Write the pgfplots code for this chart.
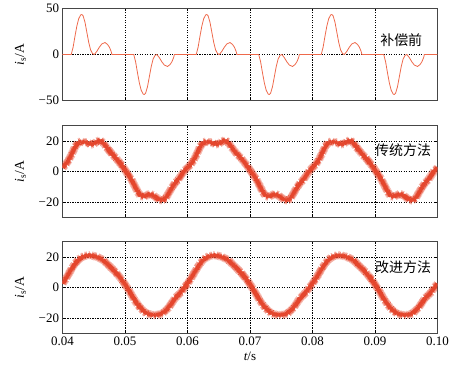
\documentclass[border=0pt]{standalone}
\usepackage{fontspec}
\setmainfont{Liberation Serif}
\newfontfamily\cjk{Noto Sans CJK SC}
\usepackage{pgfplots}
\pgfplotsset{compat=1.18}
\usetikzlibrary{decorations.pathmorphing}
\definecolor{cA}{RGB}{238,105,75}
\definecolor{cB}{RGB}{228,70,45}
\definecolor{frameC}{RGB}{70,70,70}
\pgfplotsset{
  common/.style={
    scale only axis, width=375bp, height=92bp,
    xmin=0.04, xmax=0.10,
    xtick={0.04,0.05,0.06,0.07,0.08,0.09,0.10},
    grid=major,
    major grid style={black, line width=0.5pt, dash pattern=on 1.2pt off 1.3pt},
    axis line style={frameC, line width=1pt},
    tick style={black, line width=0.4pt},
    major tick length=3bp,
    tick align=inside,
    /pgf/number format/assume math mode=true,
    tick label style={font=\fontsize{13}{15}\selectfont},
    ylabel={{\itshape i}\textsubscript{s}/A},
    ylabel style={font=\fontsize{13.5}{15}\selectfont, at={(axis description cs:-0.112,0.5)}, anchor=center},
    clip=true,
  },
  ripple/.style={cB, line width=0.45pt, decorate, decoration={zigzag, segment length=0.9pt, amplitude=2.1pt}},
  base/.style={cB!80, line width=2.6pt, line join=round},
}
\begin{document}
\begin{tikzpicture}
\useasboundingbox (0,0) rectangle (474bp,366bp);
% ---------- Panel 1 ----------
\begin{axis}[common, at={(62.5bp,357.5bp)}, anchor=north west,
  ymin=-50, ymax=50, ytick={-50,0,50}, yticklabels={−50,0,50}, xticklabels={}]
\addplot[cA, line width=0.8pt] coordinates {
(0.0400,0)
(0.0414,0)(0.0417,8)(0.0420,20)(0.0423,31)(0.0426,39)(0.0429,43)(0.0431,43.5)(0.0433,42)(0.0436,35)(0.0439,24)(0.0442,13)
(0.0445,5)(0.0448,1)(0.0451,0)(0.0455,3.5)(0.0459,8)(0.0463,11.5)(0.0468,13)(0.0472,11)(0.0475,8)(0.0478,3)(0.0479,0)
(0.0514,0)(0.0517,-8)(0.0520,-20)(0.0523,-31)(0.0526,-39)(0.0529,-43)(0.0531,-43.5)(0.0533,-42)(0.0536,-35)(0.0539,-24)(0.0542,-13)
(0.0545,-5)(0.0548,-1)(0.0551,0)(0.0555,-3.5)(0.0559,-8)(0.0563,-11.5)(0.0568,-13)(0.0572,-11)(0.0575,-8)(0.0578,-3)(0.0579,0)
(0.0614,0)(0.0617,8)(0.0620,20)(0.0623,31)(0.0626,39)(0.0629,43)(0.0631,43.5)(0.0633,42)(0.0636,35)(0.0639,24)(0.0642,13)
(0.0645,5)(0.0648,1)(0.0651,0)(0.0655,3.5)(0.0659,8)(0.0663,11.5)(0.0668,13)(0.0672,11)(0.0675,8)(0.0678,3)(0.0679,0)
(0.0714,0)(0.0717,-8)(0.0720,-20)(0.0723,-31)(0.0726,-39)(0.0729,-43)(0.0731,-43.5)(0.0733,-42)(0.0736,-35)(0.0739,-24)(0.0742,-13)
(0.0745,-5)(0.0748,-1)(0.0751,0)(0.0755,-3.5)(0.0759,-8)(0.0763,-11.5)(0.0768,-13)(0.0772,-11)(0.0775,-8)(0.0778,-3)(0.0779,0)
(0.0814,0)(0.0817,8)(0.0820,20)(0.0823,31)(0.0826,39)(0.0829,43)(0.0831,43.5)(0.0833,42)(0.0836,35)(0.0839,24)(0.0842,13)
(0.0845,5)(0.0848,1)(0.0851,0)(0.0855,3.5)(0.0859,8)(0.0863,11.5)(0.0868,13)(0.0872,11)(0.0875,8)(0.0878,3)(0.0879,0)
(0.0914,0)(0.0917,-8)(0.0920,-20)(0.0923,-31)(0.0926,-39)(0.0929,-43)(0.0931,-43.5)(0.0933,-42)(0.0936,-35)(0.0939,-24)(0.0942,-13)
(0.0945,-5)(0.0948,-1)(0.0951,0)(0.0955,-3.5)(0.0959,-8)(0.0963,-11.5)(0.0968,-13)(0.0972,-11)(0.0975,-8)(0.0978,-3)(0.0979,0)
(0.1000,0)
};
\node[font=\cjk\fontsize{14}{16}\selectfont] at (axis cs:0.0942,16) {补偿前};
\end{axis}
% ---------- Panel 2 ----------
\begin{axis}[common, at={(62.5bp,240.5bp)}, anchor=north west,
  ymin=-30, ymax=30, ytick={-20,0,20}, yticklabels={−20,0,20}, xticklabels={}]
\addplot[base] coordinates {
(0.0400,2.5)(0.0405,4.5)(0.0410,7.5)(0.0415,11.5)(0.0420,16)(0.0425,19)(0.0430,19.5)(0.0435,19)(0.0440,19)(0.0445,17.5)
(0.0450,18)(0.0455,19.5)(0.0460,20.5)(0.0465,19)(0.0470,16)(0.0475,13.5)(0.0480,11)(0.0485,9)(0.0490,6.5)(0.0495,4)
(0.0500,1)(0.0505,-2)(0.0510,-5)(0.0515,-9)(0.0520,-13)(0.0525,-16)(0.0530,-16.5)(0.0535,-15.5)(0.0540,-14.5)(0.0545,-15.5)
(0.0550,-17)(0.0555,-18.5)(0.0560,-19)(0.0565,-17.5)(0.0570,-14)(0.0575,-10.5)(0.0580,-7.5)(0.0585,-5.5)(0.0590,-2.5)(0.0595,0.5)
(0.0600,2.5)(0.0605,4.5)(0.0610,7.5)(0.0615,11.5)(0.0620,16)(0.0625,19)(0.0630,19.5)(0.0635,19)(0.0640,19)(0.0645,17.5)
(0.0650,18)(0.0655,19.5)(0.0660,20.5)(0.0665,19)(0.0670,16)(0.0675,13.5)(0.0680,11)(0.0685,9)(0.0690,6.5)(0.0695,4)
(0.0700,1)(0.0705,-2)(0.0710,-5)(0.0715,-9)(0.0720,-13)(0.0725,-16)(0.0730,-16.5)(0.0735,-15.5)(0.0740,-14.5)(0.0745,-15.5)
(0.0750,-17)(0.0755,-18.5)(0.0760,-19)(0.0765,-17.5)(0.0770,-14)(0.0775,-10.5)(0.0780,-7.5)(0.0785,-5.5)(0.0790,-2.5)(0.0795,0.5)
(0.0800,2.5)(0.0805,4.5)(0.0810,7.5)(0.0815,11.5)(0.0820,16)(0.0825,19)(0.0830,19.5)(0.0835,19)(0.0840,19)(0.0845,17.5)
(0.0850,18)(0.0855,19.5)(0.0860,20.5)(0.0865,19)(0.0870,16)(0.0875,13.5)(0.0880,11)(0.0885,9)(0.0890,6.5)(0.0895,4)
(0.0900,1)(0.0905,-2)(0.0910,-5)(0.0915,-9)(0.0920,-13)(0.0925,-16)(0.0930,-16.5)(0.0935,-15.5)(0.0940,-14.5)(0.0945,-15.5)
(0.0950,-17)(0.0955,-18.5)(0.0960,-19)(0.0965,-17.5)(0.0970,-14)(0.0975,-10.5)(0.0980,-7.5)(0.0985,-5.5)(0.0990,-2.5)(0.0995,0.5)
(0.1000,2.5)
};
\addplot[ripple] coordinates {
(0.0400,2.5)(0.0405,4.5)(0.0410,7.5)(0.0415,11.5)(0.0420,16)(0.0425,19)(0.0430,19.5)(0.0435,19)(0.0440,19)(0.0445,17.5)
(0.0450,18)(0.0455,19.5)(0.0460,20.5)(0.0465,19)(0.0470,16)(0.0475,13.5)(0.0480,11)(0.0485,9)(0.0490,6.5)(0.0495,4)
(0.0500,1)(0.0505,-2)(0.0510,-5)(0.0515,-9)(0.0520,-13)(0.0525,-16)(0.0530,-16.5)(0.0535,-15.5)(0.0540,-14.5)(0.0545,-15.5)
(0.0550,-17)(0.0555,-18.5)(0.0560,-19)(0.0565,-17.5)(0.0570,-14)(0.0575,-10.5)(0.0580,-7.5)(0.0585,-5.5)(0.0590,-2.5)(0.0595,0.5)
(0.0600,2.5)(0.0605,4.5)(0.0610,7.5)(0.0615,11.5)(0.0620,16)(0.0625,19)(0.0630,19.5)(0.0635,19)(0.0640,19)(0.0645,17.5)
(0.0650,18)(0.0655,19.5)(0.0660,20.5)(0.0665,19)(0.0670,16)(0.0675,13.5)(0.0680,11)(0.0685,9)(0.0690,6.5)(0.0695,4)
(0.0700,1)(0.0705,-2)(0.0710,-5)(0.0715,-9)(0.0720,-13)(0.0725,-16)(0.0730,-16.5)(0.0735,-15.5)(0.0740,-14.5)(0.0745,-15.5)
(0.0750,-17)(0.0755,-18.5)(0.0760,-19)(0.0765,-17.5)(0.0770,-14)(0.0775,-10.5)(0.0780,-7.5)(0.0785,-5.5)(0.0790,-2.5)(0.0795,0.5)
(0.0800,2.5)(0.0805,4.5)(0.0810,7.5)(0.0815,11.5)(0.0820,16)(0.0825,19)(0.0830,19.5)(0.0835,19)(0.0840,19)(0.0845,17.5)
(0.0850,18)(0.0855,19.5)(0.0860,20.5)(0.0865,19)(0.0870,16)(0.0875,13.5)(0.0880,11)(0.0885,9)(0.0890,6.5)(0.0895,4)
(0.0900,1)(0.0905,-2)(0.0910,-5)(0.0915,-9)(0.0920,-13)(0.0925,-16)(0.0930,-16.5)(0.0935,-15.5)(0.0940,-14.5)(0.0945,-15.5)
(0.0950,-17)(0.0955,-18.5)(0.0960,-19)(0.0965,-17.5)(0.0970,-14)(0.0975,-10.5)(0.0980,-7.5)(0.0985,-5.5)(0.0990,-2.5)(0.0995,0.5)
(0.1000,2.5)
};
\node[font=\cjk\fontsize{14}{16}\selectfont] at (axis cs:0.0945,13.7) {传统方法};
\end{axis}
% ---------- Panel 3 ----------
\begin{axis}[common, at={(62.5bp,124.5bp)}, anchor=north west,
  ymin=-30, ymax=30, ytick={-20,0,20}, yticklabels={−20,0,20},
  xticklabels={0.04,0.05,0.06,0.07,0.08,0.09,0.10},
  xlabel={{\itshape t}/s},
  xlabel style={font=\fontsize{13}{15}\selectfont, at={(axis description cs:0.5,0)}, anchor=north, yshift=-15bp}]
\addplot[base] coordinates {
(0.0400,2.5)(0.0405,5.5)(0.0410,9)(0.0415,12.5)(0.0420,15.5)(0.0425,18)(0.0430,19.5)(0.0435,20.5)(0.0440,21)(0.0445,21)
(0.0450,20.5)(0.0455,20)(0.0460,19)(0.0465,18)(0.0470,16)(0.0475,14)(0.0480,12)(0.0485,10)(0.0490,7.5)(0.0495,5)
(0.0500,2)(0.0505,-1)(0.0510,-4.5)(0.0515,-8)(0.0520,-11)(0.0525,-13.5)(0.0530,-15.5)(0.0535,-17)(0.0540,-17.5)(0.0545,-18)
(0.0550,-18)(0.0555,-17.5)(0.0560,-17)(0.0565,-15)(0.0570,-13)(0.0575,-10)(0.0580,-7)(0.0585,-5)(0.0590,-3)(0.0595,0)
(0.0600,2.5)(0.0605,5.5)(0.0610,9)(0.0615,12.5)(0.0620,15.5)(0.0625,18)(0.0630,19.5)(0.0635,20.5)(0.0640,21)(0.0645,21)
(0.0650,20.5)(0.0655,20)(0.0660,19)(0.0665,18)(0.0670,16)(0.0675,14)(0.0680,12)(0.0685,10)(0.0690,7.5)(0.0695,5)
(0.0700,2)(0.0705,-1)(0.0710,-4.5)(0.0715,-8)(0.0720,-11)(0.0725,-13.5)(0.0730,-15.5)(0.0735,-17)(0.0740,-17.5)(0.0745,-18)
(0.0750,-18)(0.0755,-17.5)(0.0760,-17)(0.0765,-15)(0.0770,-13)(0.0775,-10)(0.0780,-7)(0.0785,-5)(0.0790,-3)(0.0795,0)
(0.0800,2.5)(0.0805,5.5)(0.0810,9)(0.0815,12.5)(0.0820,15.5)(0.0825,18)(0.0830,19.5)(0.0835,20.5)(0.0840,21)(0.0845,21)
(0.0850,20.5)(0.0855,20)(0.0860,19)(0.0865,18)(0.0870,16)(0.0875,14)(0.0880,12)(0.0885,10)(0.0890,7.5)(0.0895,5)
(0.0900,2)(0.0905,-1)(0.0910,-4.5)(0.0915,-8)(0.0920,-11)(0.0925,-13.5)(0.0930,-15.5)(0.0935,-17)(0.0940,-17.5)(0.0945,-18)
(0.0950,-18)(0.0955,-17.5)(0.0960,-17)(0.0965,-15)(0.0970,-13)(0.0975,-10)(0.0980,-7)(0.0985,-5)(0.0990,-3)(0.0995,0)
(0.1000,2.5)
};
\addplot[ripple] coordinates {
(0.0400,2.5)(0.0405,5.5)(0.0410,9)(0.0415,12.5)(0.0420,15.5)(0.0425,18)(0.0430,19.5)(0.0435,20.5)(0.0440,21)(0.0445,21)
(0.0450,20.5)(0.0455,20)(0.0460,19)(0.0465,18)(0.0470,16)(0.0475,14)(0.0480,12)(0.0485,10)(0.0490,7.5)(0.0495,5)
(0.0500,2)(0.0505,-1)(0.0510,-4.5)(0.0515,-8)(0.0520,-11)(0.0525,-13.5)(0.0530,-15.5)(0.0535,-17)(0.0540,-17.5)(0.0545,-18)
(0.0550,-18)(0.0555,-17.5)(0.0560,-17)(0.0565,-15)(0.0570,-13)(0.0575,-10)(0.0580,-7)(0.0585,-5)(0.0590,-3)(0.0595,0)
(0.0600,2.5)(0.0605,5.5)(0.0610,9)(0.0615,12.5)(0.0620,15.5)(0.0625,18)(0.0630,19.5)(0.0635,20.5)(0.0640,21)(0.0645,21)
(0.0650,20.5)(0.0655,20)(0.0660,19)(0.0665,18)(0.0670,16)(0.0675,14)(0.0680,12)(0.0685,10)(0.0690,7.5)(0.0695,5)
(0.0700,2)(0.0705,-1)(0.0710,-4.5)(0.0715,-8)(0.0720,-11)(0.0725,-13.5)(0.0730,-15.5)(0.0735,-17)(0.0740,-17.5)(0.0745,-18)
(0.0750,-18)(0.0755,-17.5)(0.0760,-17)(0.0765,-15)(0.0770,-13)(0.0775,-10)(0.0780,-7)(0.0785,-5)(0.0790,-3)(0.0795,0)
(0.0800,2.5)(0.0805,5.5)(0.0810,9)(0.0815,12.5)(0.0820,15.5)(0.0825,18)(0.0830,19.5)(0.0835,20.5)(0.0840,21)(0.0845,21)
(0.0850,20.5)(0.0855,20)(0.0860,19)(0.0865,18)(0.0870,16)(0.0875,14)(0.0880,12)(0.0885,10)(0.0890,7.5)(0.0895,5)
(0.0900,2)(0.0905,-1)(0.0910,-4.5)(0.0915,-8)(0.0920,-11)(0.0925,-13.5)(0.0930,-15.5)(0.0935,-17)(0.0940,-17.5)(0.0945,-18)
(0.0950,-18)(0.0955,-17.5)(0.0960,-17)(0.0965,-15)(0.0970,-13)(0.0975,-10)(0.0980,-7)(0.0985,-5)(0.0990,-3)(0.0995,0)
(0.1000,2.5)
};
\node[font=\cjk\fontsize{14}{16}\selectfont] at (axis cs:0.0945,13.1) {改进方法};
\end{axis}
\end{tikzpicture}
\end{document}
